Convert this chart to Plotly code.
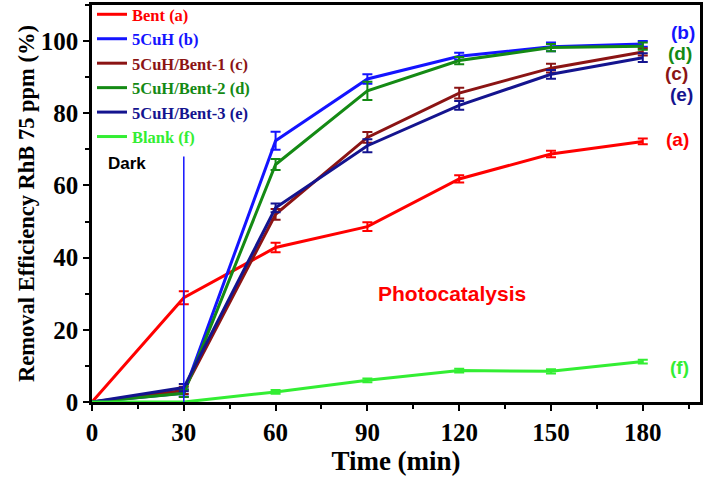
import plotly.graph_objects as go

time = [0, 30, 60, 90, 120, 150, 180]
names = ["Bent (a)", "5CuH (b)", "5CuH/Bent-1 (c)", "5CuH/Bent-2 (d)", "5CuH/Bent-3 (e)", "Blank (f)"]
colors = ["#ff0000", "#1414ff", "#8b1414", "#148a14", "#14148f", "#33ee33"]
bent = [0, 28.9, 42.8, 48.6, 61.8, 68.7, 72.2]
cuh = [0, 2.5, 72.4, 89.5, 95.8, 98.4, 99.2]
cb1 = [0, 3.2, 52.0, 73.3, 85.6, 92.5, 97.0]
cb2 = [0, 2.4, 65.8, 86.2, 94.6, 98.2, 98.6]
cb3 = [0, 4.0, 53.8, 71.0, 82.2, 90.8, 95.4]
blank = [0, 0, 2.8, 6.0, 8.7, 8.5, 11.2]
err_bent = [0, 1.8, 1.3, 1.2, 1.0, 0.9, 0.8]
err_cuh = [0, 1.0, 2.5, 1.3, 1.0, 1.2, 0.8]
err_cb1 = [0, 1.0, 1.5, 1.5, 1.5, 1.2, 1.0]
err_cb2 = [0, 1.0, 1.5, 2.5, 1.0, 1.0, 1.0]
err_cb3 = [0, 1.0, 1.2, 1.8, 1.2, 1.2, 1.2]
err_blank = [0, 0, 0.5, 0.5, 0.5, 0.6, 0.5]
series = [bent, cuh, cb1, cb2, cb3, blank]
errors = [err_bent, err_cuh, err_cb1, err_cb2, err_cb3, err_blank]
right_labels = ["(a)", "(b)", "(c)", "(d)", "(e)", "(f)"]
right_pos = [(191.5, 72.7), (193, 102.3), (191, 91.0), (192, 96.6), (192.5, 85.3), (192, 9.6)]

fig = go.Figure()
for n, c, ys, es in zip(names, colors, series, errors):
    fig.add_trace(go.Scatter(
        x=time, y=ys, mode="lines", name=f"<span style='color:{c}'>{n}</span>",
        line=dict(color=c, width=3),
        error_y=dict(type="data", array=es, color=c, thickness=2, width=5),
    ))

# vertical dark/light separator
fig.add_shape(type="line", x0=30, x1=30, y0=0, y1=68, xref="x", yref="y",
              line=dict(color="#1414ff", width=1.5))

for lab, (px, py), c in zip(right_labels, right_pos, colors):
    fig.add_annotation(x=px, y=py, text=f"<b>{lab}</b>", showarrow=False,
                       font=dict(family="Liberation Sans", size=19, color=c))
fig.add_annotation(x=11.5, y=66, text="<b>Dark</b>", showarrow=False,
                   font=dict(family="Liberation Sans", size=17, color="black"))
fig.add_annotation(x=117.5, y=30, text="<b>Photocatalysis</b>", showarrow=False,
                   font=dict(family="Liberation Sans", size=21, color="#ff0000"))

axis_common = dict(showline=True, linecolor="black", linewidth=2.5, mirror=True,
                   ticks="outside", ticklen=6, tickwidth=2, tickcolor="black",
                   showgrid=False, zeroline=False)

fig.update_xaxes(range=[0, 198.7], tickvals=[0, 30, 60, 90, 120, 150, 180],
                 tickfont=dict(family="Liberation Serif", size=25, color="black", weight="bold"),
                 minor=dict(ticks="outside", dtick=15, ticklen=4, tickwidth=2, tickcolor="black"),
                 title=dict(text="<b>Time (min)</b>", font=dict(family="Liberation Serif", size=27, color="black"), standoff=2),
                 **axis_common)
fig.update_yaxes(range=[0, 110], tickvals=[0, 20, 40, 60, 80, 100],
                 tickfont=dict(family="Liberation Serif", size=25, color="black", weight="bold"),
                 minor=dict(ticks="outside", dtick=10, ticklen=4, tickwidth=2, tickcolor="black"),
                 title=dict(text="<b>Removal Efficiency RhB 75 ppm (%)</b>", font=dict(family="Liberation Serif", size=22.5, color="black"), standoff=0),
                 **axis_common)

fig.update_layout(
    width=708, height=480,
    margin=dict(l=92, r=8, t=5, b=78, autoexpand=False),
    plot_bgcolor="white", paper_bgcolor="white",
    showlegend=True,
    legend=dict(x=0.0, y=1.02, xanchor="left", yanchor="top", bgcolor="rgba(0,0,0,0)",
                font=dict(family="Liberation Serif", size=16.5, weight="bold"),
                tracegroupgap=0, itemwidth=30),
)

fig.write_html("out.html")
